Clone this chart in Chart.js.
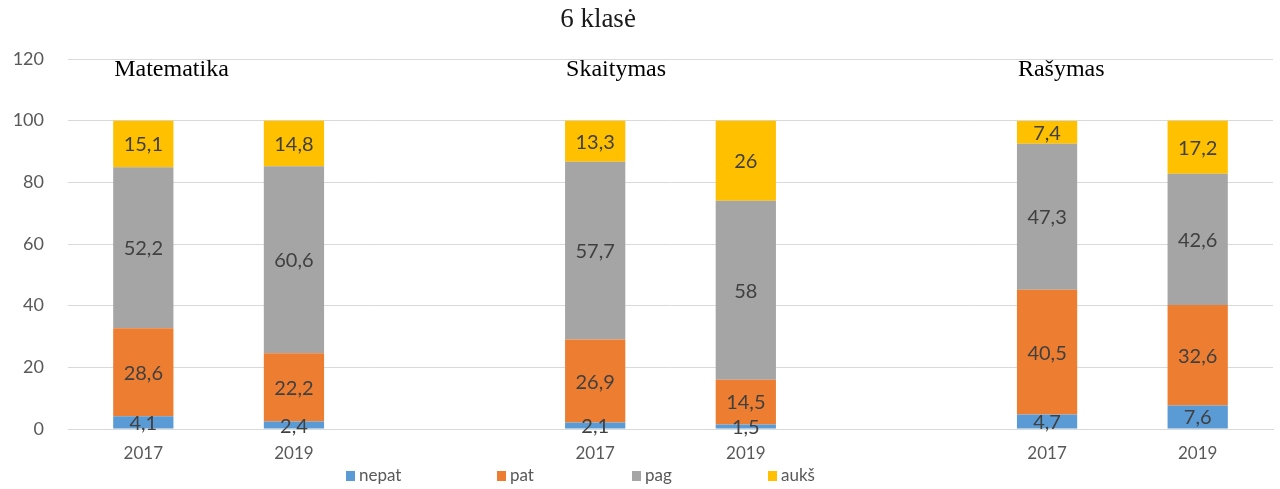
<!DOCTYPE html>
<html>
<head>
<meta charset="utf-8">
<script src="https://cdn.jsdelivr.net/npm/chart.js@4/dist/chart.umd.min.js"></script>
<style>
  html, body { margin: 0; padding: 0; background: #fff; }
  #wrap { width: 1280px; height: 489px; }
</style>
</head>
<body>
<div id="wrap"><canvas id="chart" width="1280" height="489"></canvas></div>
<script>
// Chart data
const years = ['2017', '2019', '', '2017', '2019', '', '2017', '2019'];
const subjects = ['Matematika', 'Skaitymas', 'Rašymas'];
const subjectStart = [0, 3, 6]; // category index where each subject begins

const nepat = [4.1, 2.4, null, 2.1, 1.5, null, 4.7, 7.6];
const pat = [28.6, 22.2, null, 26.9, 14.5, null, 40.5, 32.6];
const pag = [52.2, 60.6, null, 57.7, 58, null, 47.3, 42.6];
const auks = [15.1, 14.8, null, 13.3, 26, null, 7.4, 17.2];

const seriesNames = ['nepat', 'pat', 'pag', 'aukš'];
const colors = ['#5B9BD5', '#ED7D31', '#A5A5A5', '#FFC000'];

const yTicks = [0, 20, 40, 60, 80, 100, 120];

// Legend item positions (x of the square)
const legendX = [346, 497, 632, 768];

const sansFont = 'Lato, "Open Sans", sans-serif';
const serifFont = '"Liberation Serif", "DejaVu Serif", serif';

function fmt(v) {
  return String(v).replace('.', ',');
}

// Draws title, subject names, value labels and legend
const extras = {
  id: 'extras',
  afterDatasetsDraw(chart) {
    const ctx = chart.ctx;
    const xScale = chart.scales.x;
    const yScale = chart.scales.y;

    ctx.save();

    // value labels
    ctx.font = '20px ' + sansFont;
    ctx.fillStyle = '#404040';
    ctx.textAlign = 'center';
    ctx.textBaseline = 'middle';
    chart.data.datasets.forEach((ds, i) => {
      const meta = chart.getDatasetMeta(i);
      meta.data.forEach((bar, j) => {
        const v = ds.data[j];
        if (v === null) return;
        ctx.fillText(fmt(v), bar.x, (bar.y + bar.base) / 2 + 1);
      });
    });

    // title
    ctx.font = '27px ' + serifFont;
    ctx.fillStyle = '#1a1a1a';
    ctx.textAlign = 'center';
    ctx.fillText('6 klasė', 598, 20);

    // subject names above each group
    const barW = chart.getDatasetMeta(0).data[0].width;
    ctx.font = '24px ' + serifFont;
    ctx.fillStyle = '#000';
    ctx.textAlign = 'left';
    subjects.forEach((s, k) => {
      const x = xScale.getPixelForValue(subjectStart[k]) - barW / 2 + 1;
      ctx.fillText(s, x, yScale.getPixelForValue(120) + 11);
    });

    // legend
    ctx.font = '17px ' + sansFont;
    ctx.textAlign = 'left';
    seriesNames.forEach((name, k) => {
      ctx.fillStyle = colors[k];
      ctx.fillRect(legendX[k], 471, 9, 10);
      ctx.fillStyle = '#595959';
      ctx.fillText(name, legendX[k] + 13, 476);
    });

    ctx.restore();
  }
};

const datasets = [nepat, pat, pag, auks].map((d, i) => ({
  label: seriesNames[i],
  data: d,
  backgroundColor: colors[i],
  borderWidth: 0,
  categoryPercentage: 1,
  barPercentage: 0.4
}));

new Chart(document.getElementById('chart'), {
  type: 'bar',
  data: { labels: years, datasets },
  plugins: [extras],
  options: {
    responsive: false,
    animation: false,
    layout: { padding: { top: 59, right: 7, left: 0, bottom: 0 } },
    plugins: {
      legend: { display: false },
      title: { display: false },
      tooltip: { enabled: false }
    },
    scales: {
      x: {
        stacked: true,
        grid: { display: false, drawTicks: false },
        border: { color: '#D9D9D9' },
        ticks: {
          color: '#595959',
          font: { family: sansFont, size: 17 },
          padding: 14,
          maxRotation: 0,
          autoSkip: false
        },
        afterFit(scale) { scale.height = 60; }
      },
      y: {
        stacked: true,
        min: 0,
        max: 120,
        afterBuildTicks(scale) { scale.ticks = yTicks.map(v => ({ value: v })); },
        grid: { color: '#D9D9D9', drawTicks: false },
        border: { display: false },
        ticks: {
          color: '#595959',
          font: { family: sansFont, size: 18 },
          padding: 24
        },
        afterFit(scale) { scale.width = 68; }
      }
    }
  }
});
</script>
</body>
</html>
